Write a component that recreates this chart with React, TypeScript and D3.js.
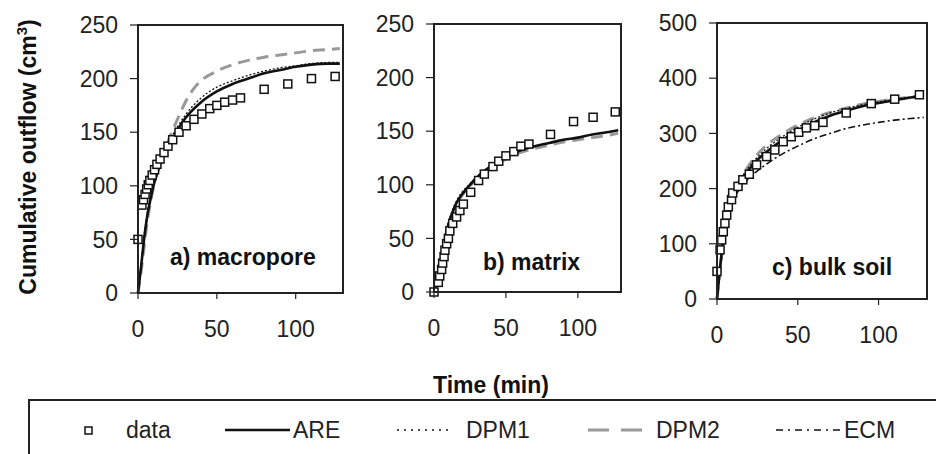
import React from "react";
import * as d3 from "d3";

type P = [number, number];

// ---- Data (time in min, cumulative outflow in cm^3) ----
const macroData: P[] = [[0,50],[2.5,82],[3.5,87],[4.5,92],[5.5,97],[6.5,101],[7.5,105],[9,110],[10.5,115],[12,120],[14,125],[16.5,131],[19,137],[22,143],[26,150],[30.5,156],[35.5,162],[40.5,167],[45.5,172],[50,175],[55,178],[60,180],[65,182],[80,190],[95,195],[110,200],[125,202]];
const macroARE: P[] = [[0,0],[2,25],[4,52],[6,73],[8,88],[10,101],[12,111],[15,124],[20,139],[25,152],[30,163],[40,178],[50,188],[60,195],[70,200],[80,205],[90,208],[100,211],[110,213],[120,214],[128,214]];
const macroDPM1: P[] = [[0,0],[2,27],[4,55],[6,76],[8,91],[10,104],[12,114],[15,127],[20,142],[25,155],[30,166],[40,182],[50,192],[60,198],[70,203],[80,207],[90,210],[100,212],[110,214],[120,215],[128,215]];
const macroDPM2: P[] = [[0,0],[2,20],[4,45],[6,68],[8,85],[10,100],[12,112],[15,126],[20,145],[25,162],[30,178],[35,190],[40,198],[50,207],[60,213],[70,217],[80,220],[90,222],[100,224],[110,226],[120,227],[128,228]];

const matrixData: P[] = [[0,0],[3,9],[4,15],[5.3,21],[6,27],[7,33],[7.6,39],[8.8,45],[10,50],[11,57],[13,64],[15.7,70],[18,76],[20.4,82],[25.5,93],[31,104],[35,110],[41,117],[45,122],[50,127],[55.5,131],[60.4,136],[66,138],[81,147],[97,159],[110.6,163],[126,168]];
const matrixARE: P[] = [[0,0],[2,10],[4,22],[6,38],[8,52],[10,63],[13,75],[16,84],[20,92],[25,100],[30,107],[40,118],[50,126],[60,132],[70,136],[80,139],[90,142],[100,144],[110,147],[120,149],[128,151]];
const matrixDPM1: P[] = [[0,0],[2,11],[4,24],[6,40],[8,54],[10,65],[13,77],[16,86],[20,94],[25,101],[30,108],[40,118],[50,126],[60,132],[70,136],[80,139],[90,142],[100,144],[110,147],[120,149],[128,151]];
const matrixDPM2: P[] = [[0,0],[2,10],[4,21],[6,37],[8,51],[10,62],[13,74],[16,83],[20,91],[25,99],[30,106],[40,116],[50,124],[60,130],[70,134],[80,137],[90,140],[100,142],[110,144],[120,146],[128,148]];

const bulkData: P[] = [[0,50],[1.9,89],[2.9,107],[3.9,122],[4.9,137],[6,152],[7,167],[9,180],[9.7,192],[13,204],[16,216],[20,226],[24.5,243],[30.7,258],[35.8,270],[41,285],[46,294],[50.6,302],[55.3,310],[60.5,314],[65.6,320],[80,337],[95.5,354],[110,362],[125.3,370]];
const bulkARE: P[] = [[0,0],[2,60],[4,110],[6,145],[8,170],[10,188],[15,215],[20,235],[25,252],[30,265],[40,287],[50,305],[60,320],[70,332],[80,341],[90,349],[100,355],[110,360],[120,365],[128,368]];
const bulkDPM1: P[] = [[0,0],[2,62],[4,113],[6,148],[8,173],[10,191],[15,219],[20,240],[25,257],[30,271],[40,293],[50,311],[60,326],[70,337],[80,345],[90,352],[100,357],[110,362],[120,366],[128,369]];
const bulkDPM2: P[] = [[0,0],[2,55],[4,105],[6,142],[8,170],[10,190],[15,220],[20,243],[25,262],[30,277],[40,298],[50,315],[60,328],[70,338],[80,346],[90,353],[100,358],[110,362],[120,366],[128,369]];
const bulkECM: P[] = [[0,0],[2,55],[4,100],[6,135],[8,160],[10,178],[15,203],[20,220],[25,232],[30,243],[40,262],[50,277],[60,290],[70,300],[80,309],[90,315],[100,320],[110,324],[120,327],[128,329]];

const xTicks = [0, 50, 100];
const yTicksAB = [0, 50, 100, 150, 200, 250];
const yTicksC = [0, 100, 200, 300, 400, 500];
const panelLabels = ["a) macropore", "b) matrix", "c) bulk soil"];
const legendLabels = ["data", "ARE", "DPM1", "DPM2", "ECM"];

const FONT = "'Liberation Sans', Arial, Helvetica, sans-serif";

type Panel = {
  left: number; right: number; top: number; bottom: number;
  ymax: number; yticks: number[]; label: string; lx: number; ly: number;
  data: P[]; are: P[]; dpm1: P[]; dpm2: P[]; ecm?: P[];
};

const panels: Panel[] = [
  { left: 138, right: 343, top: 25, bottom: 293, ymax: 250, yticks: yTicksAB, label: panelLabels[0], lx: 170, ly: 257, data: macroData, are: macroARE, dpm1: macroDPM1, dpm2: macroDPM2 },
  { left: 434, right: 621, top: 24, bottom: 292, ymax: 250, yticks: yTicksAB, label: panelLabels[1], lx: 483, ly: 262, data: matrixData, are: matrixARE, dpm1: matrixDPM1, dpm2: matrixDPM2 },
  { left: 717, right: 927, top: 23, bottom: 299, ymax: 500, yticks: yTicksC, label: panelLabels[2], lx: 772, ly: 267, data: bulkData, are: bulkARE, dpm1: bulkDPM1, dpm2: bulkDPM2, ecm: bulkECM },
];

const STY = {
  are: { stroke: "#111", strokeWidth: 2.6, dash: undefined as string | undefined },
  dpm1: { stroke: "#111", strokeWidth: 1.3, dash: "2,2" },
  dpm2: { stroke: "#999", strokeWidth: 3, dash: "12,7" },
  ecm: { stroke: "#111", strokeWidth: 1.6, dash: "7,3,2,3" },
};

function PanelView({ p }: { p: Panel }) {
  const x = d3.scaleLinear().domain([0, 130]).range([p.left, p.right]);
  const y = d3.scaleLinear().domain([0, p.ymax]).range([p.bottom, p.top]);
  const line = d3.line<P>().x(d => x(d[0])).y(d => y(d[1])).curve(d3.curveMonotoneX);
  const path = (pts: P[] | undefined, s: typeof STY.are) =>
    pts ? <path d={line(pts) || ""} fill="none" stroke={s.stroke} strokeWidth={s.strokeWidth} strokeDasharray={s.dash} /> : null;
  return (
    <g>
      {path(p.dpm2, STY.dpm2)}
      {path(p.ecm, STY.ecm)}
      {path(p.are, STY.are)}
      {path(p.dpm1, STY.dpm1)}
      {p.data.map((d, i) => (
        <rect key={i} x={x(d[0]) - 4} y={y(d[1]) - 4} width={8} height={8} fill="#fff" stroke="#111" strokeWidth={1.5} />
      ))}
      <rect x={p.left} y={p.top} width={p.right - p.left} height={p.bottom - p.top} fill="none" stroke="#222" strokeWidth={2} />
      {p.yticks.map(t => (
        <g key={"y" + t}>
          <line x1={p.left - 8} x2={p.left} y1={y(t)} y2={y(t)} stroke="#222" strokeWidth={1.2} />
          <text x={p.left - 20} y={y(t)} dy="0.36em" textAnchor="end" fontSize={23} fontFamily={FONT} fill="#222">{t}</text>
        </g>
      ))}
      {xTicks.map(t => (
        <g key={"x" + t}>
          <line x1={x(t)} x2={x(t)} y1={p.bottom} y2={p.bottom + 6} stroke="#222" strokeWidth={1.2} />
          <text x={x(t)} y={p.bottom + 36} dy="0.36em" textAnchor="middle" fontSize={23} fontFamily={FONT} fill="#222">{t}</text>
        </g>
      ))}
      <text x={p.lx} y={p.ly} dy="0.36em" fontSize={23} fontWeight="bold" fontFamily={FONT} fill="#111">{p.label}</text>
    </g>
  );
}

export default function App() {
  const ly = 430;
  return (
    <svg width={936} height={454} style={{ position: "absolute", left: 0, top: 0, background: "#fff" }}>
      <rect x={0} y={0} width={936} height={454} fill="#fff" />
      {panels.map((p, i) => <PanelView key={i} p={p} />)}
      <text transform="translate(28,157) rotate(-90)" textAnchor="middle" dy="0.36em" fontSize={23} fontWeight="bold" fontFamily={FONT} fill="#111">
        Cumulative outflow (cm<tspan dy="-9" fontSize={15}>3</tspan><tspan dy="9">)</tspan>
      </text>
      <text x={491} y={385} dy="0.36em" textAnchor="middle" fontSize={23} fontWeight="bold" fontFamily={FONT} fill="#111">Time (min)</text>
      <rect x={29} y={400} width={940} height={80} fill="none" stroke="#222" strokeWidth={2} />
      <rect x={85} y={427} width={7} height={7} fill="#fff" stroke="#111" strokeWidth={1.5} />
      <text x={126} y={ly} dy="0.36em" fontSize={23} fontFamily={FONT} fill="#222">{legendLabels[0]}</text>
      <line x1={225} x2={290} y1={ly} y2={ly} stroke={STY.are.stroke} strokeWidth={STY.are.strokeWidth} />
      <text x={293} y={ly} dy="0.36em" fontSize={23} fontFamily={FONT} fill="#222">{legendLabels[1]}</text>
      <line x1={397} x2={450} y1={ly} y2={ly} stroke={STY.dpm1.stroke} strokeWidth={1.3} strokeDasharray="2,5" />
      <text x={466} y={ly} dy="0.36em" fontSize={23} fontFamily={FONT} fill="#222">{legendLabels[2]}</text>
      <line x1={588} x2={642} y1={ly} y2={ly} stroke={STY.dpm2.stroke} strokeWidth={3} strokeDasharray="21,12" />
      <text x={656} y={ly} dy="0.36em" fontSize={23} fontFamily={FONT} fill="#222">{legendLabels[3]}</text>
      <line x1={776} x2={843} y1={ly} y2={ly} stroke={STY.ecm.stroke} strokeWidth={1.6} strokeDasharray="7,5,2,5" />
      <text x={844} y={ly} dy="0.36em" fontSize={23} fontFamily={FONT} fill="#222">{legendLabels[4]}</text>
    </svg>
  );
}
